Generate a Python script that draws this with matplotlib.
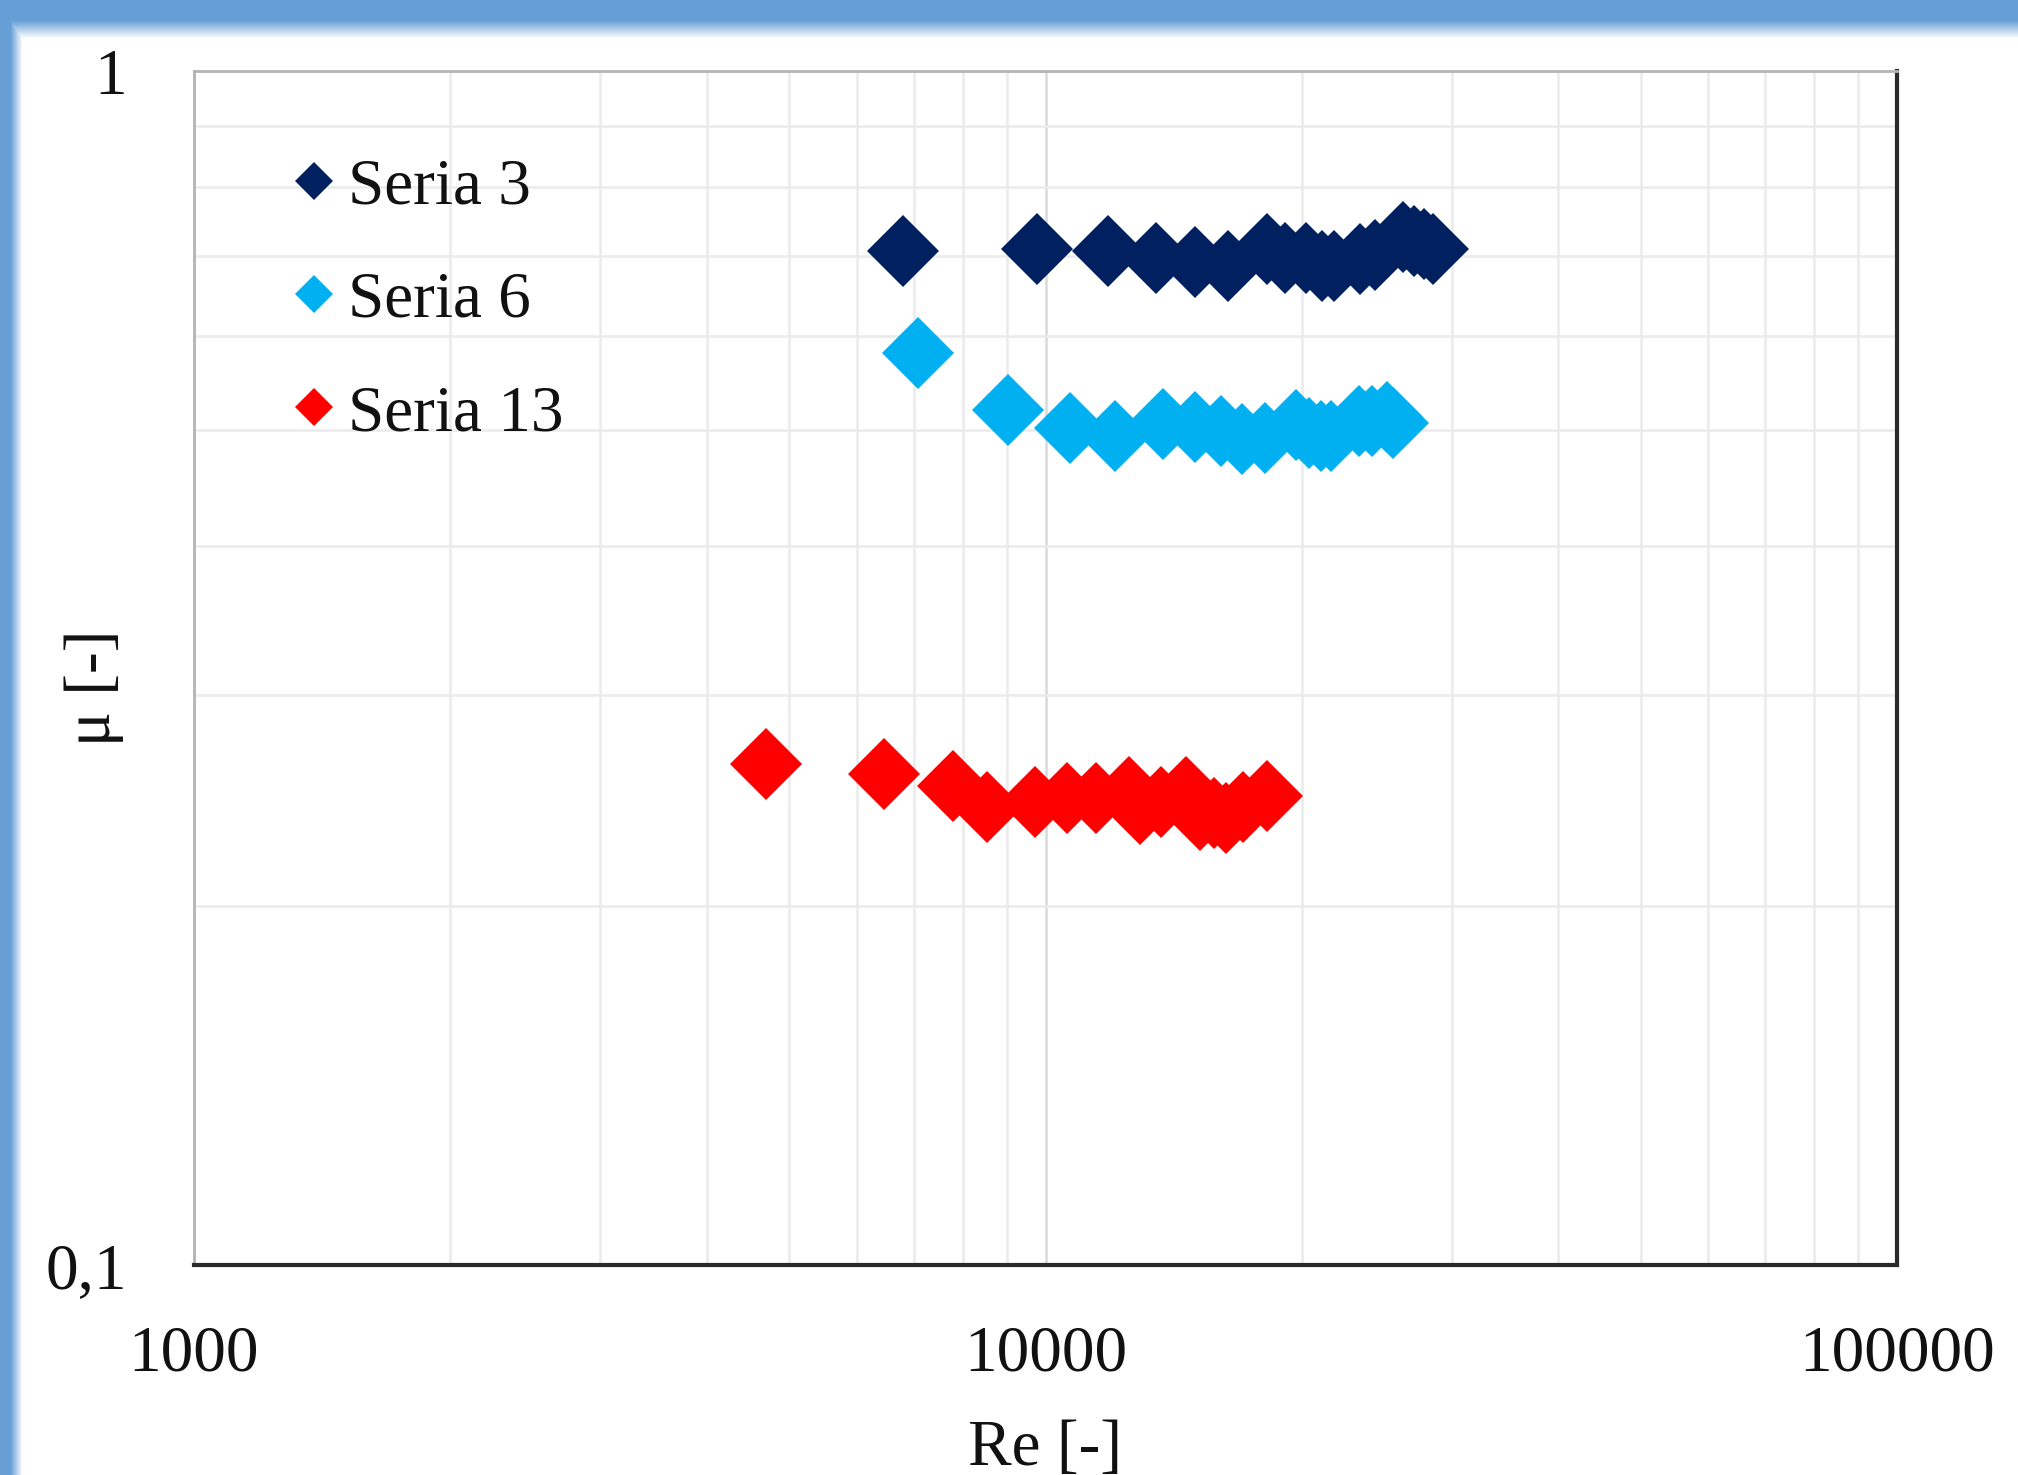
import numpy as np
import matplotlib
matplotlib.use("Agg")
import matplotlib.pyplot as plt
from matplotlib.font_manager import FontProperties

# ---- data -------------------------------------------------------------
re_s3 = [6808, 9765, 11851, 13469, 14986, 16359, 18201, 19110, 20200,
         21122, 21818, 23404, 24374, 26316, 27053, 27795, 28479]
mu_s3 = [0.707, 0.710, 0.707, 0.697, 0.692, 0.686, 0.710, 0.697, 0.697,
         0.686, 0.686, 0.696, 0.701, 0.726, 0.721, 0.716, 0.710]

re_s6 = [7090, 9027, 10671, 12083, 13740, 14963, 16052, 17003, 18093,
         19697, 20389, 21061, 21659, 23340, 24177, 25158, 25590]
mu_s6 = [0.581, 0.520, 0.502, 0.495, 0.506, 0.503, 0.499, 0.492, 0.493,
         0.505, 0.498, 0.495, 0.495, 0.509, 0.509, 0.513, 0.507]

re_s13 = [4691, 6462, 7779, 8548, 9733, 10599, 11472, 12522, 12910,
          13648, 14622, 15187, 15760, 16284, 17072, 18201]
mu_s13 = [0.263, 0.258, 0.252, 0.242, 0.244, 0.246, 0.246, 0.249, 0.241,
          0.244, 0.249, 0.238, 0.239, 0.237, 0.242, 0.247]

series_labels = ["Seria 3", "Seria 6", "Seria 13"]
series_colors = ["#002060", "#00B0F0", "#FF0000"]

x_ticks = [1000, 10000, 100000]
x_ticklabels = ["1000", "10000", "100000"]
y_ticks = [0.1, 1]
y_ticklabels = ["0,1", "1"]
x_label = "Re [-]"
y_label = "\u03bc [-]"

# ---- figure -----------------------------------------------------------
W, H, DPI = 2018, 1475, 100
fig = plt.figure(figsize=(W / DPI, H / DPI), dpi=DPI, facecolor="white")

# window frame: blue band along the top and left edges fading to white
bg = fig.add_axes([0, 0, 1, 1], zorder=-10)
bg.set_axis_off()
blue = np.array([0.40, 0.62, 0.84])
yy = np.arange(H)[:, None].astype(float)
xx = np.arange(W)[None, :].astype(float)
top_w = np.clip((yy - 20) / 18.0, 0, 1)
left_w = np.clip((xx - 10) / 12.0, 0, 1)
w = np.minimum(top_w, left_w)
frame = blue[None, None, :] + (1 - blue[None, None, :]) * w[..., None]
bg.imshow(frame, extent=[0, 1, 0, 1], aspect="auto", origin="upper",
          interpolation="bilinear")
bg.set_xlim(0, 1)
bg.set_ylim(0, 1)

serif = "Liberation Serif"
fsize = 47
font = FontProperties(family=serif, size=fsize)

ax = fig.add_axes([194 / W, 1 - 1265 / H, (1897 - 194) / W, (1265 - 71) / H])
ax.set_facecolor("white")
ax.set_xscale("log")
ax.set_yscale("log")
ax.set_xlim(1000, 100000)
ax.set_ylim(0.1, 1)

# grid
ax.set_axisbelow(True)
ax.grid(which="both", axis="both", color="#ebebeb", linewidth=1.8)
ax.grid(which="major", axis="x", color="#d9d9d9", linewidth=1.8)

for re_v, mu_v, lab, col in zip([re_s3, re_s6, re_s13],
                                [mu_s3, mu_s6, mu_s13],
                                series_labels, series_colors):
    ax.plot(re_v, mu_v, linestyle="none", marker="D", markersize=37,
            markeredgewidth=0, color=col, label=lab)

# ticks
ax.set_xticks(x_ticks)
ax.set_xticklabels(x_ticklabels)
ax.set_yticks(y_ticks)
ax.set_yticklabels(y_ticklabels)
ax.xaxis.set_minor_formatter(plt.NullFormatter())
ax.yaxis.set_minor_formatter(plt.NullFormatter())
ax.tick_params(which="both", length=0)
ax.tick_params(axis="x", pad=43)
ax.tick_params(axis="y", pad=48)
for t in ax.get_xticklabels() + ax.get_yticklabels():
    t.set_fontproperties(font)
    t.set_color("#111111")

# spines
for side in ("top", "left"):
    ax.spines[side].set_color("#b4b4b4")
    ax.spines[side].set_linewidth(2.0)
for side in ("right", "bottom"):
    ax.spines[side].set_color("#2a2a2a")
    ax.spines[side].set_linewidth(3.0)

# axis titles
fig.text(1045 / W, 1 - 1420 / H, x_label, ha="center", va="top",
         fontproperties=font, color="#111111")
fig.text(94 / W, 1 - 688 / H, y_label, ha="center", va="center",
         rotation=90, fontproperties=font, color="#111111")

# legend
leg = ax.legend(loc="upper left", bbox_to_anchor=(288 / W, 1 - 158 / H),
                bbox_transform=fig.transFigure, frameon=False, prop=font,
                markerscale=0.53, handlelength=0.8, handletextpad=0.12,
                labelspacing=0.82, borderpad=0, borderaxespad=0)
for t in leg.get_texts():
    t.set_color("#111111")

fig.savefig("out.png", dpi=DPI, facecolor="white")
